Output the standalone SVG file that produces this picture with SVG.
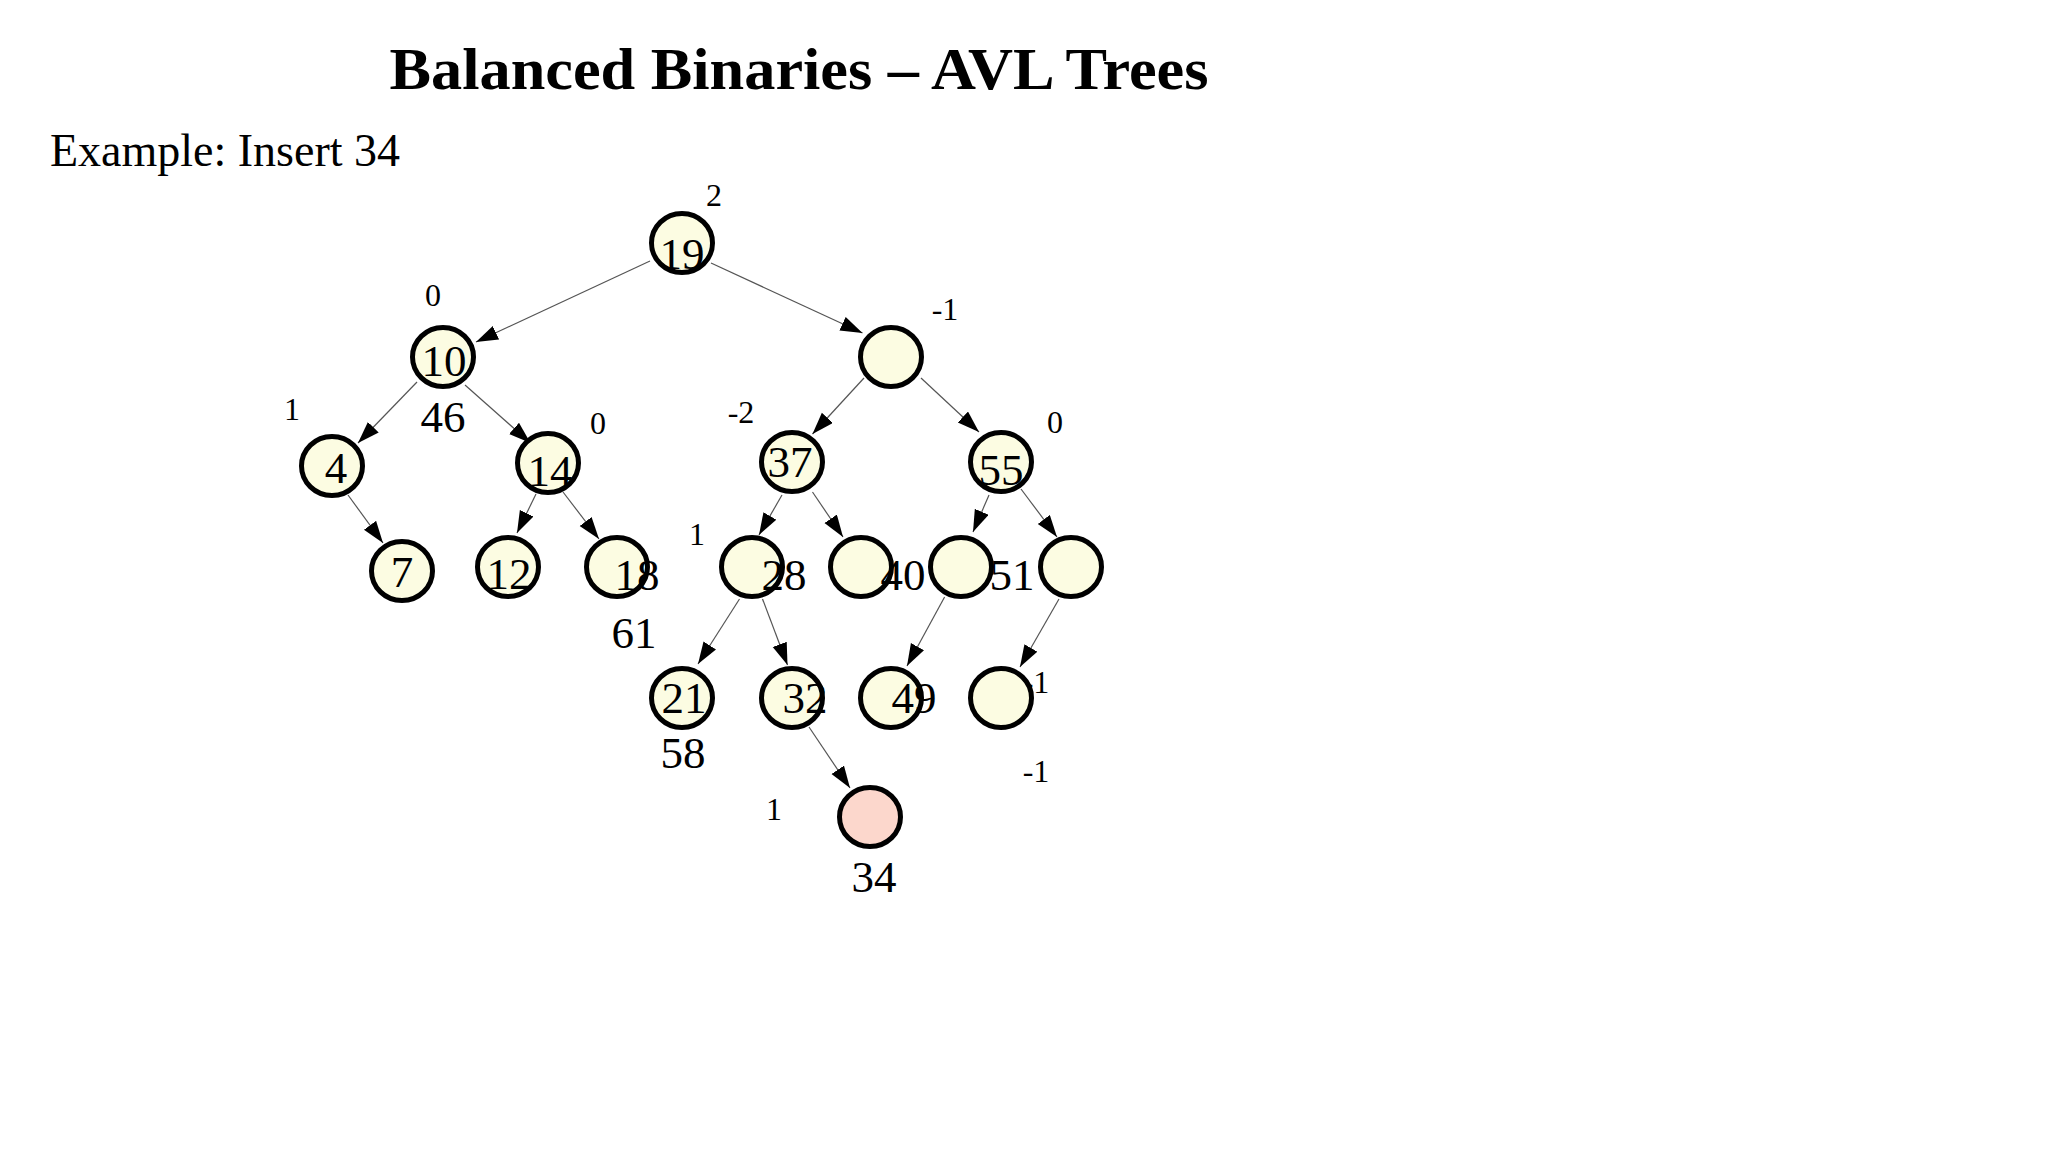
<svg xmlns="http://www.w3.org/2000/svg" width="2048" height="1152" viewBox="0 0 2048 1152">
<defs>
<marker id="arr" markerUnits="userSpaceOnUse" markerWidth="23" markerHeight="16" refX="22" refY="7.5" orient="auto">
<path d="M0,0 L22,7.5 L0,15 z" fill="#000"/>
</marker>
<style>
.n ellipse{fill:#fcfce2;stroke:#000;stroke-width:5}
.n ellipse.new{fill:#fcd7cc}
.v{font-family:"Liberation Serif","Times New Roman",serif;font-size:45px;fill:#000;text-anchor:middle}
.b{font-family:"Liberation Serif","Times New Roman",serif;font-size:32px;fill:#000;text-anchor:middle}
.e line{stroke:#555;stroke-width:1.2;marker-end:url(#arr)}
</style>
</defs>
<rect width="2048" height="1152" fill="#fff"/>
<text x="799" y="89" font-family="Liberation Serif,'Times New Roman',serif" font-weight="bold" font-size="60" text-anchor="middle" textLength="819" lengthAdjust="spacingAndGlyphs">Balanced Binaries – AVL Trees</text>
<text x="50" y="166" font-family="Liberation Serif,'Times New Roman',serif" font-size="46">Example: Insert 34</text>

<g id="edges" class="e">
<line x1="650" y1="261" x2="476" y2="342"/>
<line x1="711" y1="263" x2="862.5" y2="333"/>
<line x1="417" y1="382" x2="358" y2="443"/>
<line x1="465" y1="385" x2="530.5" y2="443"/>
<line x1="348" y1="495" x2="383" y2="543"/>
<line x1="536" y1="494" x2="517" y2="533"/>
<line x1="563" y1="492" x2="599" y2="539"/>
<line x1="864" y1="378" x2="812.5" y2="434"/>
<line x1="921" y1="378" x2="979" y2="432"/>
<line x1="782" y1="495" x2="759" y2="535"/>
<line x1="812.5" y1="492" x2="843" y2="537"/>
<line x1="989" y1="495" x2="973" y2="532"/>
<line x1="1021" y1="489" x2="1057" y2="537"/>
<line x1="739.5" y1="599" x2="698" y2="664"/>
<line x1="762.5" y1="599" x2="787.5" y2="665"/>
<line x1="944.6" y1="597" x2="907" y2="666"/>
<line x1="1059" y1="599" x2="1020" y2="667"/>
<line x1="809" y1="727" x2="850" y2="788"/>
</g>

<g id="balances">
<text class="b" x="714" y="206">2</text>
<text class="b" x="433" y="306">0</text>
<text class="b" x="945" y="320">-1</text>
<text class="b" x="292" y="420">1</text>
<text class="b" x="598" y="434">0</text>
<text class="b" x="741" y="423">-2</text>
<text class="b" x="1055" y="433">0</text>
<text class="b" x="697" y="545">1</text>
<text class="b" x="1036" y="693">-1</text>
<text class="b" x="1036" y="782">-1</text>
<text class="b" x="774" y="820">1</text>
</g>

<g id="n19" class="n"><ellipse cx="682" cy="243" rx="30.5" ry="29.5"/><text class="v" x="682" y="269">19</text></g>
<g id="n10" class="n"><ellipse cx="443" cy="357" rx="30.5" ry="29.5"/><text class="v" x="444" y="376">10</text></g>
<g id="nR" class="n"><ellipse cx="891" cy="357" rx="30.5" ry="29.5"/></g>
<g id="n4" class="n"><ellipse cx="332" cy="466" rx="30.5" ry="29.5"/><text class="v" x="336" y="483">4</text></g>
<g id="n14" class="n"><ellipse cx="548" cy="463" rx="30.5" ry="29.5"/><text class="v" x="550" y="486">14</text></g>
<g id="n37" class="n"><ellipse cx="792" cy="462" rx="30.5" ry="29.5"/><text class="v" x="790" y="477">37</text></g>
<g id="n55" class="n"><ellipse cx="1001" cy="462" rx="30.5" ry="29.5"/><text class="v" x="1001" y="485">55</text></g>
<g id="n7" class="n"><ellipse cx="402" cy="571" rx="30.5" ry="29.5"/><text class="v" x="402" y="587">7</text></g>
<g id="n12" class="n"><ellipse cx="508" cy="567" rx="30.5" ry="29.5"/><text class="v" x="509" y="589">12</text></g>
<g id="n18" class="n"><ellipse cx="617" cy="567" rx="30.5" ry="29.5"/><text class="v" x="637" y="590">18</text></g>
<g id="n28" class="n"><ellipse cx="752" cy="567" rx="30.5" ry="29.5"/><text class="v" x="784" y="590">28</text></g>
<g id="n40" class="n"><ellipse cx="861" cy="567" rx="30.5" ry="29.5"/><text class="v" x="903" y="590">40</text></g>
<g id="n51" class="n"><ellipse cx="961" cy="567" rx="30.5" ry="29.5"/><text class="v" x="1012" y="590">51</text></g>
<g id="nRR" class="n"><ellipse cx="1071" cy="567" rx="30.5" ry="29.5"/></g>
<g id="n21" class="n"><ellipse cx="682" cy="698" rx="30.5" ry="29.5"/><text class="v" x="684" y="713">21</text></g>
<g id="n32" class="n"><ellipse cx="792" cy="698" rx="30.5" ry="29.5"/><text class="v" x="805" y="713">32</text></g>
<g id="n49" class="n"><ellipse cx="891" cy="698" rx="30.5" ry="29.5"/><text class="v" x="914" y="713">49</text></g>
<g id="nRRL" class="n"><ellipse cx="1001" cy="698" rx="30.5" ry="29.5"/></g>
<g id="n34" class="n"><ellipse class="new" cx="870" cy="817" rx="30.5" ry="29.5"/></g>

<g id="labels">
<text class="v" x="443" y="432">46</text>
<text class="v" x="634" y="648">61</text>
<text class="v" x="683" y="768">58</text>
<text class="v" x="874" y="892">34</text>
</g>
</svg>
